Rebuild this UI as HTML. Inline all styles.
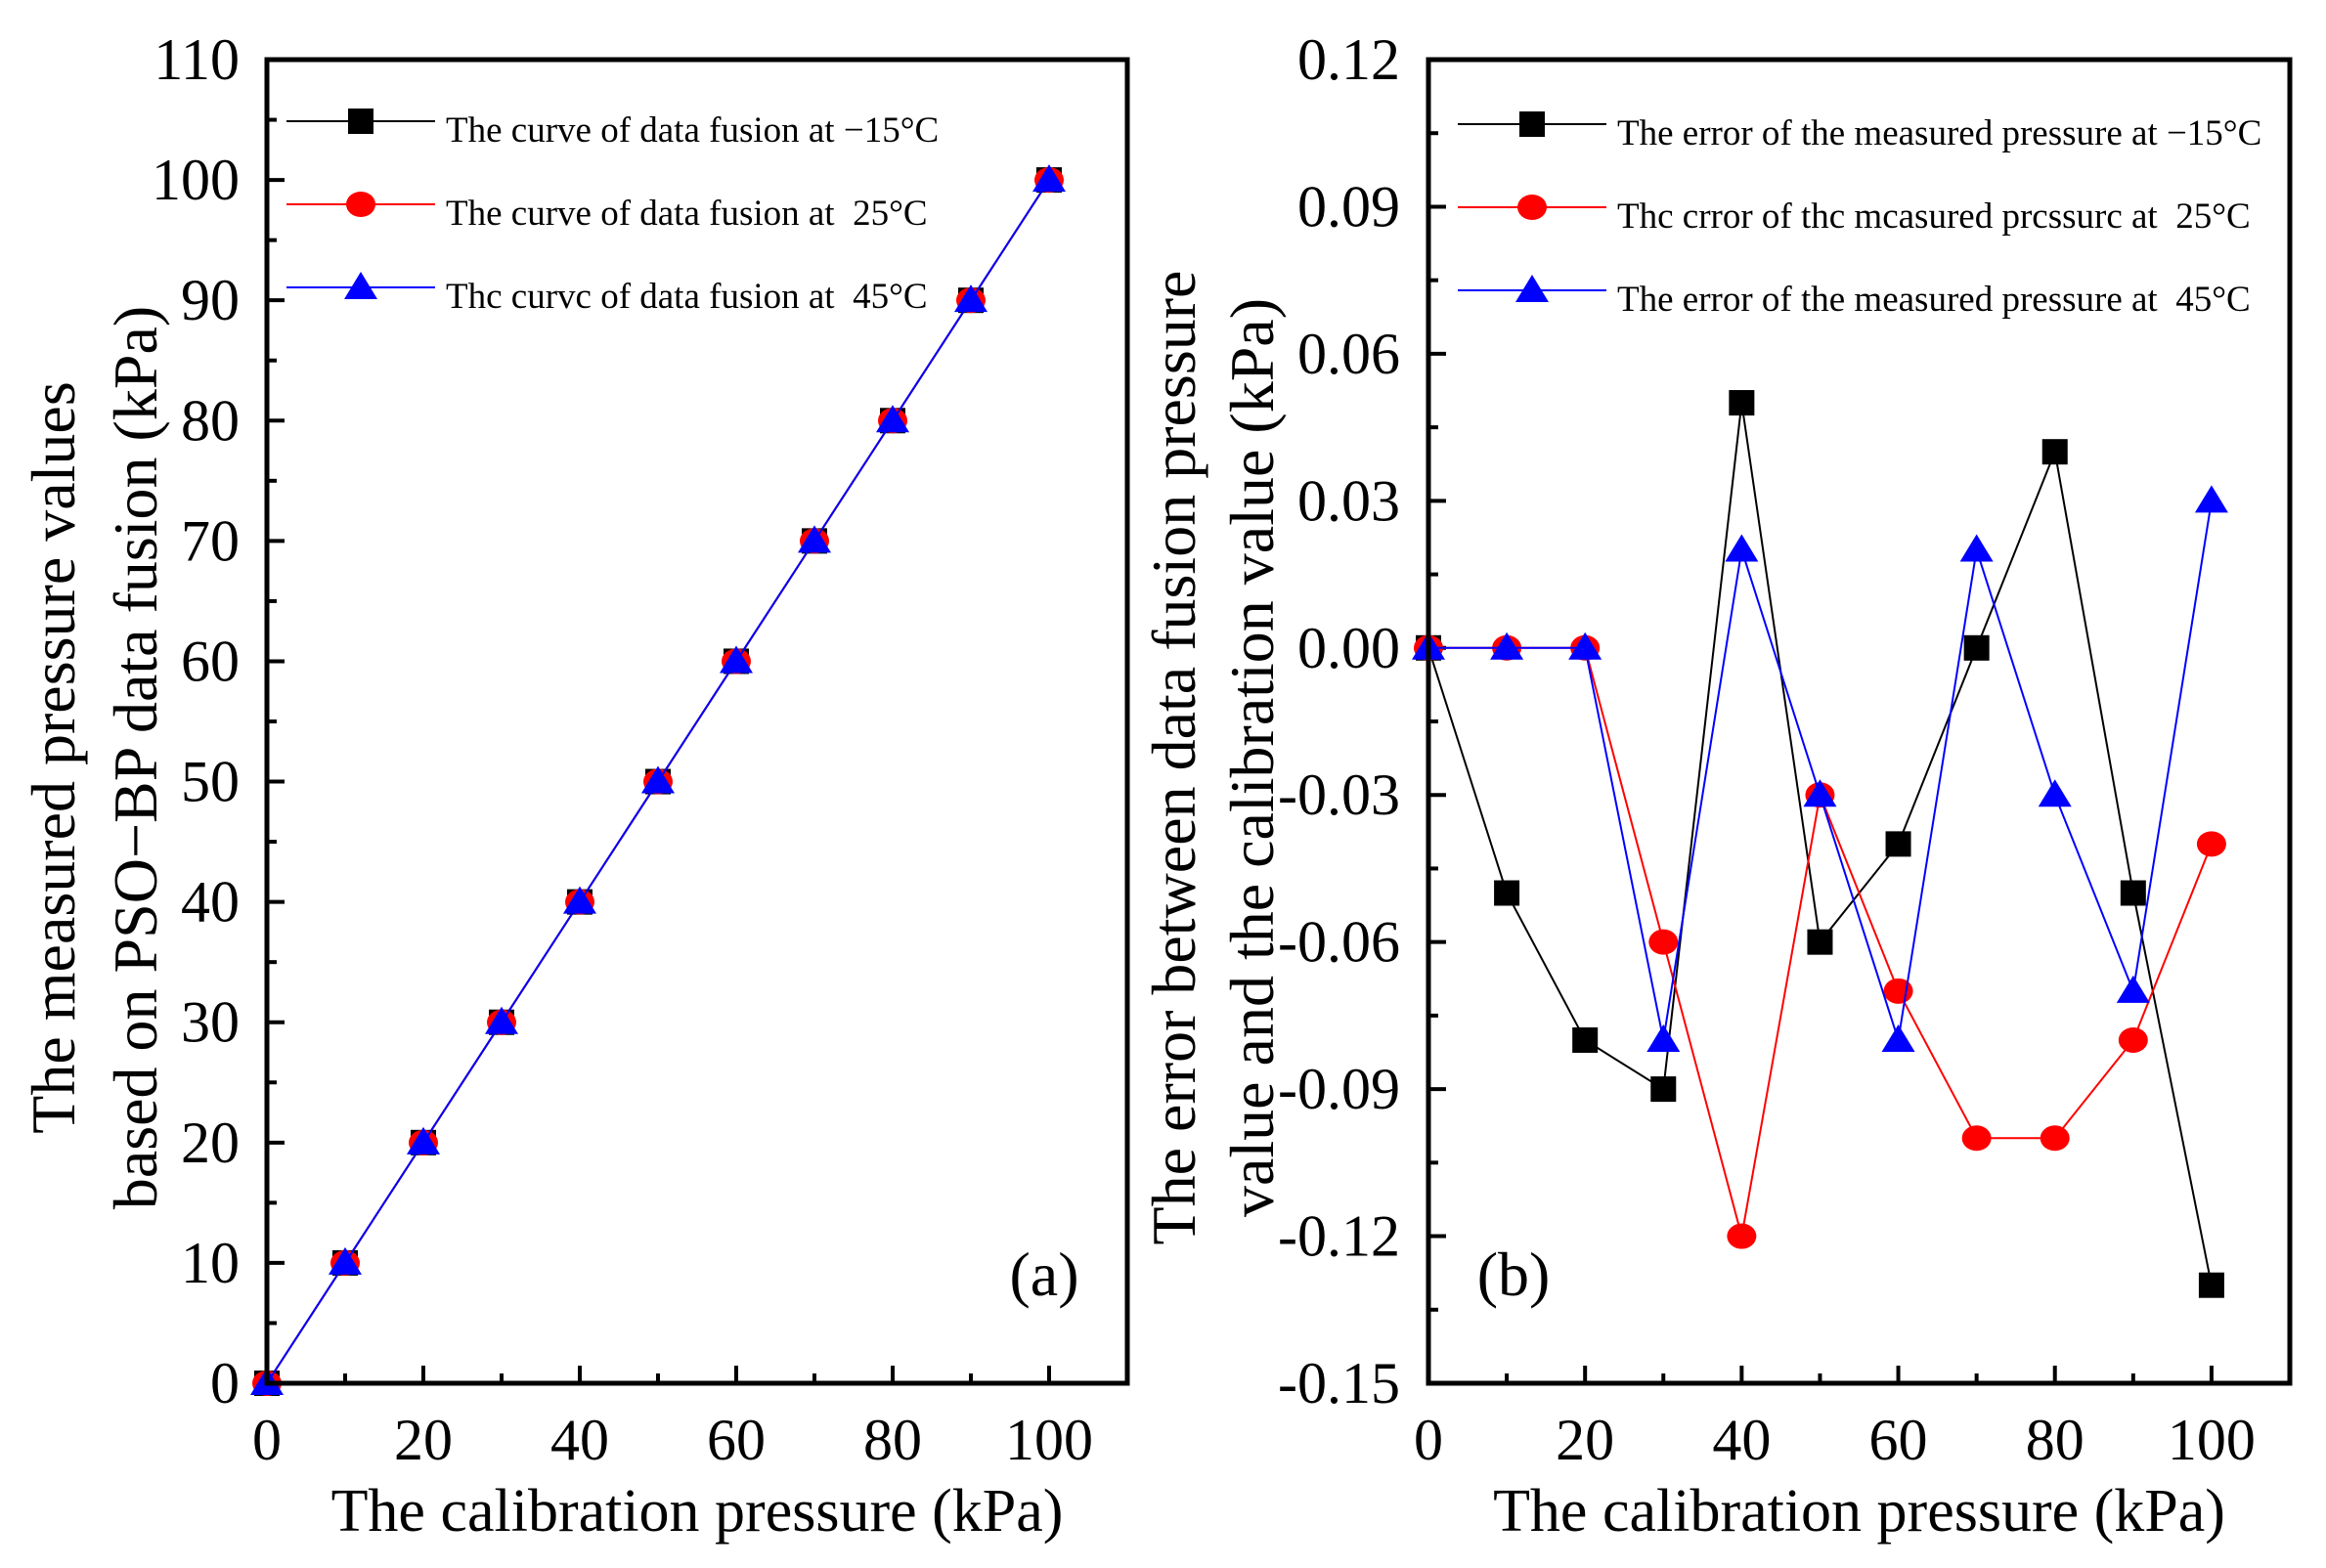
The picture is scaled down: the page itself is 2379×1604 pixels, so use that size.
<!DOCTYPE html>
<html><head><meta charset="utf-8"><style>
html,body{margin:0;padding:0;background:#fff;}
svg{display:block;font-family:"Liberation Serif",serif;}
text{white-space:pre;}
</style></head><body>
<svg id="c" width="2379" height="1604" viewBox="0 0 2379 1604"></svg>
<script>
const xCats=[0,10,20,30,40,50,60,70,80,90,100];
const fusionM15=[0,10,20,30,40,50,60,70,80,90,100];
const fusion25=[0,10,20,30,40,50,60,70,80,90,100];
const fusion45=[0,10,20,30,40,50,60,70,80,90,100];
const errM15=[0,-0.05,-0.08,-0.09,0.05,-0.06,-0.04,0,0.04,-0.05,-0.13];
const err25=[0,0,0,-0.06,-0.12,-0.03,-0.07,-0.10,-0.10,-0.08,-0.04];
const err45=[0,0,0,-0.08,0.02,-0.03,-0.08,0.02,-0.03,-0.07,0.03];
const xTicks=[0,20,40,60,80,100];
const yTicksA=[0,10,20,30,40,50,60,70,80,90,100,110];
const yTicksB=[-0.15,-0.12,-0.09,-0.06,-0.03,0,0.03,0.06,0.09,0.12];
const legendA=["The curve of data fusion at \u221215\u00b0C","The curve of data fusion at  25\u00b0C","Thc curvc of data fusion at  45\u00b0C"];
const legendB=["The error of the measured pressure at \u221215\u00b0C","Thc crror of thc mcasured prcssurc at  25\u00b0C","The error of the measured pressure at  45\u00b0C"];
const NS="http://www.w3.org/2000/svg";
const svg=document.getElementById('c');
function mk(tag,attrs,parent,txt){const e=document.createElementNS(NS,tag);for(const k in attrs)e.setAttribute(k,attrs[k]);if(txt!==undefined)e.textContent=txt;(parent||svg).appendChild(e);return e;}
function marker(g,type,x,y,col){
  let m;
  if(type==='sq')m=mk('rect',{x:x-13,y:y-13,width:26,height:26,fill:col},g);
  else if(type==='ci')m=mk('ellipse',{cx:x,cy:y,rx:15,ry:13,fill:col},g);
  else m=mk('polygon',{points:`${x},${y-16} ${x-17},${y+12} ${x+17},${y+12}`,fill:col},g);
  
  
}
function panel(o){
  const L=o.L,R=o.R,T=61,B=1415;
  const sx=v=>L+(v-o.x0)/(o.x1-o.x0)*(R-L);
  const sy=v=>B-(v-o.y0)/(o.y1-o.y0)*(B-T);
  const g=mk('g',{});
  
  
  for(let v=o.x0;v<=100+1e-9;v+=10){const x=sx(v);const len=(v%20===0)?18:10;mk('line',{x1:x,y1:B,x2:x,y2:B-len,stroke:'#000','stroke-width':4},g);}
  xTicks.forEach(v=>{const t=mk('text',{x:sx(v),y:1493,'font-size':60,'text-anchor':'middle'},g,String(v));});
  o.yt.forEach((v,i)=>{const y=sy(v);mk('line',{x1:L,y1:y,x2:L+18,y2:y,stroke:'#000','stroke-width':4},g);
    if(i<o.yt.length-1){const ym=sy(v+o.ystep/2);mk('line',{x1:L,y1:ym,x2:L+10,y2:ym,stroke:'#000','stroke-width':4},g);}
    const t=mk('text',{x:o.labX,y:y+20,'font-size':60,'text-anchor':'end'},g,o.fmt(v));});
  const cols=['#000','#ff0000','#0000ff'],types=['sq','ci','tr'];
  o.series.forEach((s,k)=>{
    const sg=mk('g',{},g);
    const pts=xCats.map((x,i)=>sx(x)+','+sy(s[i])).join(' ');
    const pl=mk('polyline',{points:pts,fill:'none',stroke:cols[k],'stroke-width':2},sg);
    
    xCats.forEach((x,i)=>marker(sg,types[k],sx(x),sy(s[i]),cols[k]));
  });
  const f=mk('rect',{x:L,y:T,width:R-L,height:B-T,fill:'none',stroke:'#000','stroke-width':5},g);
  
  o.legend.forEach((txt,k)=>{
    const lg=mk('g',{},g);
    const y=o.legY+k*85;
    mk('line',{x1:o.legX,y1:y,x2:o.legX+152,y2:y,stroke:cols[k],'stroke-width':2},lg);
    marker(lg,types[k],o.legX+76,y,cols[k]);
    mk('text',{x:o.legX+163,y:y+21,'font-size':37},lg,txt);
  });
  const pl=mk('text',{x:o.panX,y:1325,'font-size':64,'text-anchor':'middle'},g,o.panel);
  
  const xt=mk('text',{x:(L+R)/2,y:1566,'font-size':62,'text-anchor':'middle'},g,'The calibration pressure (kPa)');
  
  o.ytitle.forEach((s,i)=>{const t=mk('text',{x:0,y:0,'font-size':64,'text-anchor':'middle',transform:`translate(${o.ytX[i]},${o.ytY}) rotate(-90)`},g,s);
    });
}
panel({name:'panel-a',L:273,R:1153,x0:0,x1:110,y0:0,y1:110,yt:yTicksA,ystep:10,fmt:v=>String(v),labX:245,
  series:[fusionM15,fusion25,fusion45],legend:legendA,legX:293,legY:124,panel:'(a)',panX:1068,
  ytitle:['The measured pressure values','based on PSO\u2212BP data fusion (kPa)'],ytX:[76,160],ytY:775});
panel({name:'panel-b',L:1461,R:2342,x0:0,x1:110,y0:-0.15,y1:0.12,yt:yTicksB,ystep:0.03,fmt:v=>v.toFixed(2),labX:1432,
  series:[errM15,err25,err45],legend:legendB,legX:1491,legY:127,panel:'(b)',panX:1548,
  ytitle:['The error between data fusion pressure','value and the calibration value (kPa)'],ytX:[1222,1302],ytY:775});
</script>
</body></html>
